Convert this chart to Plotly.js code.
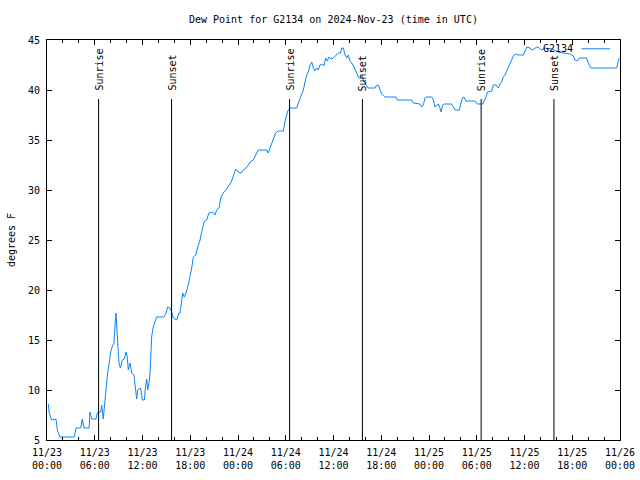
<!DOCTYPE html>
<html>
<head>
<meta charset="utf-8">
<script src="https://cdn.plot.ly/plotly-3.0.1.min.js"></script>
<style>html,body{margin:0;padding:0;background:#fff;}#chart{width:640px;height:480px;}</style>
</head>
<body>
<div id="chart"></div>
<script>
// Observation times (UTC) and dew point values (degrees F)
var times = [
"2024-11-23 00:10","2024-11-23 00:17","2024-11-23 00:35","2024-11-23 01:08","2024-11-23 01:18","2024-11-23 01:38",
"2024-11-23 03:26","2024-11-23 03:39","2024-11-23 04:14","2024-11-23 04:26","2024-11-23 04:39","2024-11-23 05:17",
"2024-11-23 05:24","2024-11-23 05:37","2024-11-23 06:10","2024-11-23 06:19","2024-11-23 06:45","2024-11-23 06:52",
"2024-11-23 07:04","2024-11-23 07:17","2024-11-23 07:25","2024-11-23 07:35","2024-11-23 07:47","2024-11-23 08:00",
"2024-11-23 08:15","2024-11-23 08:25","2024-11-23 08:33","2024-11-23 08:40","2024-11-23 08:45","2024-11-23 08:53",
"2024-11-23 09:03","2024-11-23 09:13","2024-11-23 09:28","2024-11-23 09:43","2024-11-23 09:56","2024-11-23 10:05",
"2024-11-23 10:13","2024-11-23 10:26","2024-11-23 10:38","2024-11-23 10:56","2024-11-23 11:09","2024-11-23 11:16",
"2024-11-23 11:24","2024-11-23 11:46","2024-11-23 11:59","2024-11-23 12:14","2024-11-23 12:24","2024-11-23 12:32",
"2024-11-23 12:39","2024-11-23 12:49","2024-11-23 12:57","2024-11-23 13:04","2024-11-23 13:09","2024-11-23 13:21",
"2024-11-23 13:34","2024-11-23 13:47","2024-11-23 14:42","2024-11-23 14:57","2024-11-23 15:10","2024-11-23 15:27",
"2024-11-23 15:40","2024-11-23 15:52","2024-11-23 16:18","2024-11-23 16:35","2024-11-23 16:43","2024-11-23 16:58",
"2024-11-23 17:03","2024-11-23 17:15","2024-11-23 17:28","2024-11-23 17:45","2024-11-23 17:58","2024-11-23 18:11",
"2024-11-23 18:23","2024-11-23 18:43","2024-11-23 18:56","2024-11-23 19:14","2024-11-23 19:26","2024-11-23 19:44",
"2024-11-23 20:04","2024-11-23 20:21","2024-11-23 20:49","2024-11-23 21:07","2024-11-23 21:19","2024-11-23 21:37",
"2024-11-23 21:52","2024-11-23 22:09","2024-11-23 22:29","2024-11-23 22:47","2024-11-23 23:05","2024-11-23 23:20",
"2024-11-23 23:30","2024-11-23 23:43",
"2024-11-24 00:02","2024-11-24 00:23","2024-11-24 00:40","2024-11-24 01:00","2024-11-24 01:18","2024-11-24 01:31",
"2024-11-24 01:55","2024-11-24 02:08","2024-11-24 02:21","2024-11-24 02:33","2024-11-24 03:36","2024-11-24 03:48",
"2024-11-24 04:01","2024-11-24 04:26","2024-11-24 04:44","2024-11-24 05:04","2024-11-24 05:42","2024-11-24 05:54",
"2024-11-24 06:02","2024-11-24 06:15","2024-11-24 06:32","2024-11-24 07:23","2024-11-24 07:35","2024-11-24 07:53",
"2024-11-24 08:13","2024-11-24 08:25","2024-11-24 08:38","2024-11-24 08:50","2024-11-24 09:03","2024-11-24 09:16",
"2024-11-24 09:28","2024-11-24 09:41","2024-11-24 09:53","2024-11-24 10:05","2024-11-24 10:18","2024-11-24 10:36",
"2024-11-24 10:48","2024-11-24 11:01","2024-11-24 11:13","2024-11-24 11:26","2024-11-24 11:41","2024-11-24 11:59",
"2024-11-24 12:24","2024-11-24 12:36","2024-11-24 12:54","2024-11-24 13:02","2024-11-24 13:14","2024-11-24 13:27",
"2024-11-24 13:40","2024-11-24 13:52","2024-11-24 14:04","2024-11-24 14:17","2024-11-24 14:35","2024-11-24 14:50",
"2024-11-24 15:07","2024-11-24 15:15","2024-11-24 15:33","2024-11-24 15:45","2024-11-24 16:10","2024-11-24 16:20",
"2024-11-24 17:13","2024-11-24 17:20","2024-11-24 17:38","2024-11-24 17:45","2024-11-24 18:03","2024-11-24 18:28",
"2024-11-24 19:51","2024-11-24 20:01","2024-11-24 21:50","2024-11-24 22:02","2024-11-24 22:52","2024-11-24 23:05",
"2024-11-24 23:17","2024-11-24 23:30","2024-11-24 23:43",
"2024-11-25 00:20","2024-11-25 00:33","2024-11-25 00:45","2024-11-25 00:58","2024-11-25 01:10","2024-11-25 01:23",
"2024-11-25 01:31","2024-11-25 01:43","2024-11-25 01:55","2024-11-25 02:51","2024-11-25 03:04","2024-11-25 03:16",
"2024-11-25 03:49","2024-11-25 03:59","2024-11-25 04:11","2024-11-25 04:24","2024-11-25 04:37","2024-11-25 05:47",
"2024-11-25 06:04","2024-11-25 06:45","2024-11-25 06:55","2024-11-25 07:10","2024-11-25 07:20","2024-11-25 07:53",
"2024-11-25 08:05","2024-11-25 08:25","2024-11-25 08:43","2024-11-25 08:55","2024-11-25 09:08","2024-11-25 09:20",
"2024-11-25 09:33","2024-11-25 09:46","2024-11-25 09:58","2024-11-25 10:11","2024-11-25 10:24","2024-11-25 10:36",
"2024-11-25 10:49","2024-11-25 11:14","2024-11-25 11:52","2024-11-25 12:04","2024-11-25 12:17","2024-11-25 12:41",
"2024-11-25 12:55","2024-11-25 13:12","2024-11-25 13:32","2024-11-25 13:52","2024-11-25 14:10","2024-11-25 14:35",
"2024-11-25 15:28","2024-11-25 16:13","2024-11-25 16:53","2024-11-25 17:43","2024-11-25 18:08","2024-11-25 18:21",
"2024-11-25 18:38","2024-11-25 18:53","2024-11-25 19:49","2024-11-25 20:01","2024-11-25 20:22","2024-11-25 23:35",
"2024-11-25 23:43","2024-11-25 23:53"
];
var dewF = [
8.6,7.7,7.0,7.1,6.0,5.3,
5.3,6.2,6.2,7.1,6.2,6.2,
7.8,7.1,7.1,7.7,7.8,8.5,
7.1,9.2,10.5,11.5,12.5,13.8,
14.5,14.6,16.5,17.7,16.5,14.2,
12.7,12.2,13.0,13.1,13.8,13.3,
12.0,12.7,11.7,11.5,9.7,9.1,
10.0,10.2,9.0,9.0,10.5,11.1,
10.0,10.7,11.7,13.2,15.3,16.3,
16.8,17.3,17.3,17.7,18.3,18.2,
17.8,17.2,17.0,17.7,17.7,19.2,
19.7,19.3,19.7,20.5,21.2,22.2,
23.3,23.5,24.3,25.0,25.8,26.8,
27.0,27.7,27.8,27.5,28.0,28.2,
29.3,29.7,30.0,30.3,30.7,31.2,
31.7,32.1,
31.8,31.7,32.0,32.2,32.5,32.8,
33.0,33.3,33.7,34.0,34.0,33.7,
34.2,35.2,35.7,35.9,35.9,36.8,
37.3,37.9,38.2,38.2,38.7,39.3,
40.0,40.8,41.5,41.8,42.5,42.8,
42.2,41.9,42.2,42.0,42.5,42.6,
42.4,43.2,42.9,43.3,43.1,43.2,
43.5,43.7,43.7,44.2,44.2,43.5,
43.2,43.5,42.9,42.7,42.3,41.8,
41.3,41.2,41.5,41.0,40.4,40.2,
40.2,40.4,40.5,40.2,39.6,39.3,
39.3,39.0,39.0,38.7,38.6,38.3,
38.5,39.2,39.3,
39.3,39.0,38.3,38.5,38.6,38.2,
37.8,38.5,38.6,38.6,38.3,38.0,
38.0,38.5,39.2,39.3,38.9,38.9,
38.6,38.6,38.9,39.3,39.8,39.9,
40.5,40.5,40.2,40.6,40.8,41.3,
41.5,41.9,42.2,42.7,43.0,43.4,
43.6,43.5,43.5,44.0,44.3,44.2,
44.0,44.1,44.3,44.2,44.0,44.2,
44.1,43.8,43.7,43.6,43.4,43.0,
42.9,43.2,43.2,42.7,42.2,42.2,
42.7,43.2
];
// Sun events
var sunTimes = ["2024-11-23 06:29","2024-11-23 15:39","2024-11-24 06:29","2024-11-24 15:38","2024-11-25 06:33","2024-11-25 15:42"];
var sunLabels = ["Sunrise","Sunset","Sunrise","Sunset","Sunrise","Sunset"];
var sunLineTop = 39.1;
// Axis ticks
var xTickVals = ["2024-11-23 00:00","2024-11-23 06:00","2024-11-23 12:00","2024-11-23 18:00",
                 "2024-11-24 00:00","2024-11-24 06:00","2024-11-24 12:00","2024-11-24 18:00",
                 "2024-11-25 00:00","2024-11-25 06:00","2024-11-25 12:00","2024-11-25 18:00","2024-11-26 00:00"];
var xTickText = ["11/23<br>00:00","11/23<br>06:00","11/23<br>12:00","11/23<br>18:00",
                 "11/24<br>00:00","11/24<br>06:00","11/24<br>12:00","11/24<br>18:00",
                 "11/25<br>00:00","11/25<br>06:00","11/25<br>12:00","11/25<br>18:00","11/26<br>00:00"];
var yTickVals = [5,10,15,20,25,30,35,40,45];
var seriesName = "G2134";

var FONT = "DejaVu Sans Mono, monospace";
var LINE_COLOR = "#0a84ff";

var shapes = [];
var annotations = [];
for (var i = 0; i < sunTimes.length; i++) {
  shapes.push({type:"line", xref:"x", yref:"y", x0:sunTimes[i], x1:sunTimes[i], y0:5, y1:sunLineTop,
               line:{color:"#000", width:1}});
  annotations.push({xref:"x", yref:"y", x:sunTimes[i], y:sunLineTop + 0.6, text:sunLabels[i],
                    textangle:-90, showarrow:false, xanchor:"center", yanchor:"bottom",
                    font:{family:FONT, size:10, color:"#000"}});
}
// legend (gnuplot style: text then sample line)
annotations.push({xref:"paper", yref:"paper", x:0.922, y:0.978, text:seriesName, showarrow:false,
                  xanchor:"right", yanchor:"middle", font:{family:FONT, size:10, color:"#000"}});
shapes.push({type:"line", xref:"paper", yref:"paper", x0:0.933, x1:0.983, y0:0.978, y1:0.978,
             line:{color:LINE_COLOR, width:1}});

var trace = {x:times, y:dewF, type:"scatter", mode:"lines", name:seriesName,
             line:{color:LINE_COLOR, width:1}, showlegend:false};

var layout = {
  width:640, height:480,
  margin:{l:47, r:20, t:40, b:40},
  paper_bgcolor:"#fff", plot_bgcolor:"#fff",
  font:{family:FONT, size:10, color:"#000"},
  title:{text:"Dew Point for G2134 on 2024-Nov-23 (time in UTC)", x:0.521, xanchor:"center",
         y:1-19/480, yanchor:"middle", font:{family:FONT, size:10, color:"#000"}},
  showlegend:false,
  xaxis:{type:"date", range:["2024-11-23 00:00","2024-11-26 00:00"],
         tickmode:"array", tickvals:xTickVals, ticktext:xTickText,
         ticks:"inside", ticklen:5, tickcolor:"#000", tickwidth:1, ticklabelstandoff:3,
         showline:true, linecolor:"#000", linewidth:1, mirror:"allticks",
         showgrid:false, zeroline:false, tickangle:0,
         tickfont:{family:FONT, size:10, color:"#000"},
         minor:{dtick:2*3600*1000, ticks:"inside", ticklen:3, tickcolor:"#000", tickwidth:1, showgrid:false}},
  yaxis:{range:[5,45], tickmode:"array", tickvals:yTickVals,
         ticks:"inside", ticklen:5, tickcolor:"#000", tickwidth:1, ticklabelstandoff:4,
         showline:true, linecolor:"#000", linewidth:1, mirror:"allticks",
         showgrid:false, zeroline:false,
         tickfont:{family:FONT, size:10, color:"#000"},
         title:{text:"degrees F", standoff:10, font:{family:FONT, size:10, color:"#000"}}},
  shapes:shapes,
  annotations:annotations
};
Plotly.newPlot("chart", [trace], layout, {staticPlot:true, displayModeBar:false});
</script>
</body>
</html>
